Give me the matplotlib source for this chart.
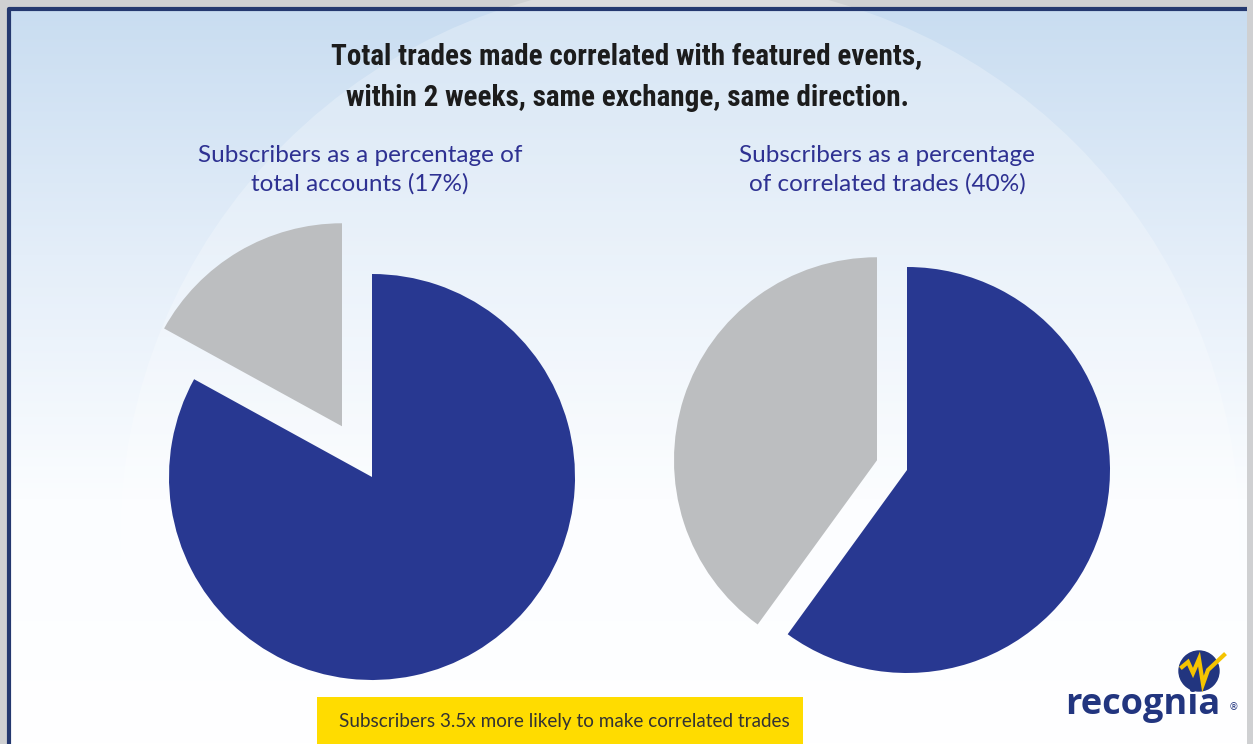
import numpy as np
import matplotlib
matplotlib.use("Agg")
from matplotlib import pyplot as plt
from matplotlib.patches import Rectangle, Circle

# data
pie_labels = ["Subscribers", "Non-subscribers"]
accounts_share = [17, 83]     # subscribers as % of total accounts
trades_share = [40, 60]       # subscribers as % of correlated trades

title = "Total trades made correlated with featured events,\nwithin 2 weeks, same exchange, same direction."
sub_left = "Subscribers as a percentage of\ntotal accounts (17%)"
sub_right = "Subscribers as a percentage\nof correlated trades (40%)"
note = "Subscribers 3.5x more likely to make correlated trades"

NAVY = "#283891"
GREY = "#bcbec0"
W, H = 1253, 744

fig = plt.figure(figsize=(W / 100, H / 100), dpi=100)
ax = fig.add_axes([0, 0, 1, 1])

# outer shadow + framed panel with gradient
ax.add_patch(Rectangle((0, 0), W, H, color="#cfd0d2", zorder=0))
grad = np.linspace(0, 1, 256)[:, None]
cmap = matplotlib.colors.LinearSegmentedColormap.from_list(
    "bg", ["#ffffff", "#fbfdff", "#e4eef9", "#c9ddf1"])
ax.imshow(grad, extent=(10, W - 6, 0, H - 10), origin="lower", cmap=cmap,
          aspect="auto", zorder=1)
ax.add_patch(Circle((680, H - 540), 560, color="white", alpha=0.25, lw=0, zorder=1.5))
ax.plot([9, 9, W - 6], [0, H - 9, H - 9], color="#24386f", lw=3, zorder=2,
        solid_capstyle="butt")

# pies
gap = 30.0
r = 203
for vals, cx, cy in [(accounts_share, 372, H - 477), (trades_share, 907, H - 470)]:
    half = np.radians(vals[0] * 3.6 / 2)
    ax.pie(vals, colors=[GREY, NAVY], startangle=90, counterclock=True,
           radius=r, center=(cx, cy), explode=[gap / np.sin(half), 0],
           wedgeprops=dict(linewidth=0, zorder=3), frame=True)
ax.set_xlim(0, W)
ax.set_ylim(0, H)
ax.set_aspect("equal")
ax.axis("off")

narrow = ["Roboto Condensed", "Liberation Sans Narrow", "Roboto", "DejaVu Sans"]

# texts
ax.text(627, H - 77, title, ha="center", va="center", fontsize=21,
        fontweight="bold", color="#1c1c1c", linespacing=1.62,
        family=narrow, zorder=5)
ax.text(360, H - 170, sub_left, ha="center", va="center", fontsize=17.5,
        color="#2e3192", linespacing=1.42, family=["Lato", "DejaVu Sans"], zorder=5)
ax.text(887, H - 170, sub_right, ha="center", va="center", fontsize=17.5,
        color="#2e3192", linespacing=1.42, family=["Lato", "DejaVu Sans"], zorder=5)

# yellow note
ax.add_patch(Rectangle((317, 0), 486, H - 697, color="#ffdc00", lw=0, zorder=4))
ax.text(564, H - 721, note, ha="center", va="center", fontsize=13.6,
        color="#333333", family=["Lato", "DejaVu Sans"], zorder=5)

# logo
ax.add_patch(Circle((1199, H - 671), 20, color="#22357f", zorder=5))
zx = [1182, 1188, 1193, 1199, 1203, 1208, 1224]
zy = [667, 662, 673, 659, 684, 670, 655]
ax.plot(zx, [H - v for v in zy], color="#f5c400", lw=3, zorder=6,
        solid_joinstyle="miter")
ax.text(1143, H - 714, "recognia", ha="center", va="baseline", fontsize=26,
        fontweight="bold", color="#22357f", family=["Open Sans", "DejaVu Sans"],
        zorder=5)
ax.text(1233, H - 707, "®", ha="center", va="center", fontsize=7,
        color="#22357f", zorder=5)

fig.savefig("out.png", dpi=100)
